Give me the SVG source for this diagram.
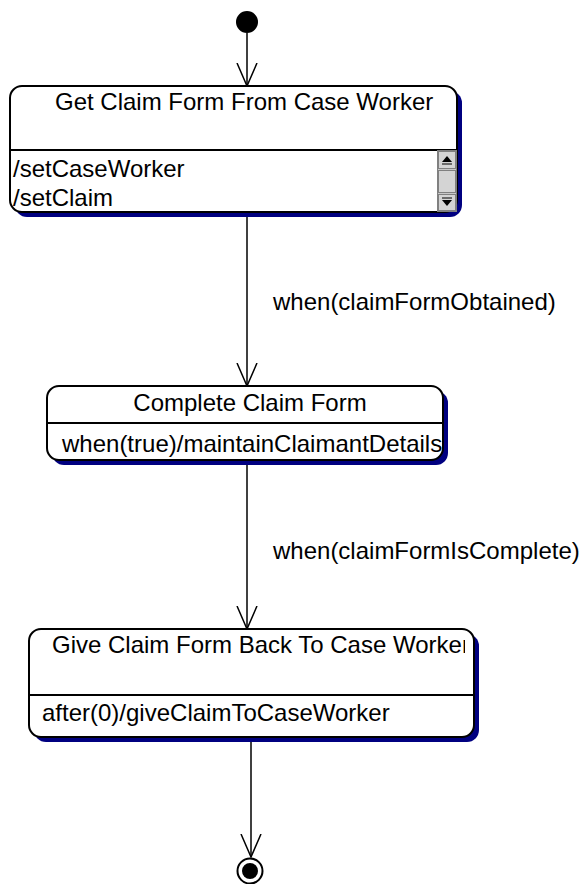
<svg xmlns="http://www.w3.org/2000/svg" width="584" height="884" viewBox="0 0 584 884">
<style>
text{font-family:"Liberation Sans",Arial,sans-serif;font-size:24px;fill:#000}
.box{fill:#fff;stroke:#000;stroke-width:2}
.shadow{fill:#000080}
.div{stroke:#000;stroke-width:2}
.conn{stroke:#000;stroke-width:1.5;fill:none;marker-end:url(#open)}
.sb{fill:#c8c8c8;stroke:#808080;stroke-width:1}
.btn{fill:#d4d4d4;stroke:#808080;stroke-width:1}
</style>
<defs>
<marker id="open" viewBox="0 0 24 22" refX="23" refY="11" markerWidth="24" markerHeight="22" markerUnits="userSpaceOnUse" orient="auto">
<path d="M0,1 L23,11 L0,21" fill="none" stroke="#000" stroke-width="1.5"/>
</marker>
<clipPath id="c1"><rect x="11" y="87" width="426" height="124"/></clipPath>
<clipPath id="c2"><rect x="48" y="387" width="394" height="72"/></clipPath>
<clipPath id="c3"><rect x="30" y="630" width="435" height="106"/></clipPath>
</defs>
<g id="connectors">
<line class="conn" x1="247" y1="33" x2="247" y2="86"/>
<line class="conn" x1="247" y1="212" x2="247" y2="386"/>
<line class="conn" x1="247" y1="460" x2="247" y2="629"/>
<line class="conn" x1="251" y1="737" x2="251" y2="857"/>
<text x="273" y="310">when(claimFormObtained)</text>
<text x="273" y="559">when(claimFormIsComplete)</text>
</g>
<g id="initial">
<circle cx="247" cy="22" r="11" fill="#000"/>
</g>
<g id="state1">
<rect class="shadow" x="15" y="91" width="447" height="126" rx="12"/>
<rect class="box" x="10" y="86" width="447" height="126" rx="12"/>
<line class="div" x1="10" y1="150" x2="457" y2="150"/>
<g clip-path="url(#c1)">
<text x="55" y="110">Get Claim Form From Case Worker</text>
<text x="13" y="177">/setCaseWorker</text>
<text x="13" y="206">/setClaim</text>
</g>
<rect class="sb" x="437.5" y="150.5" width="19" height="61"/>
<rect class="btn" x="438.5" y="151.5" width="17" height="17"/>
<path d="M442,162 L447,156 L452,162 Z" fill="#000"/>
<line x1="442" y1="164" x2="452" y2="164" stroke="#000" stroke-width="1"/>
<rect class="btn" x="438.5" y="170.5" width="17" height="22"/>
<rect class="btn" x="438.5" y="194.5" width="17" height="16"/>
<path d="M442,200 L452,200 L447,206 Z" fill="#000"/>
<line x1="442" y1="198" x2="452" y2="198" stroke="#000" stroke-width="1"/>
</g>
<g id="state2">
<rect class="shadow" x="52" y="391" width="396" height="74" rx="12"/>
<rect class="box" x="47" y="386" width="396" height="74" rx="12"/>
<line class="div" x1="47" y1="423" x2="443" y2="423"/>
<g clip-path="url(#c2)">
<text x="250" y="411" text-anchor="middle">Complete Claim Form</text>
<text x="62" y="452">when(true)/maintainClaimantDetails</text>
</g>
</g>
<g id="state3">
<rect class="shadow" x="34" y="634" width="445" height="108" rx="12"/>
<rect class="box" x="29" y="629" width="445" height="108" rx="12"/>
<line class="div" x1="29" y1="695" x2="474" y2="695"/>
<g clip-path="url(#c3)">
<text x="52" y="653">Give Claim Form Back To Case Worker</text>
<text x="42" y="721">after(0)/giveClaimToCaseWorker</text>
</g>
</g>
<g id="final">
<circle cx="250" cy="871" r="12.5" fill="#fff" stroke="#000" stroke-width="2"/>
<circle cx="250" cy="871" r="8" fill="#000"/>
</g>
</svg>
